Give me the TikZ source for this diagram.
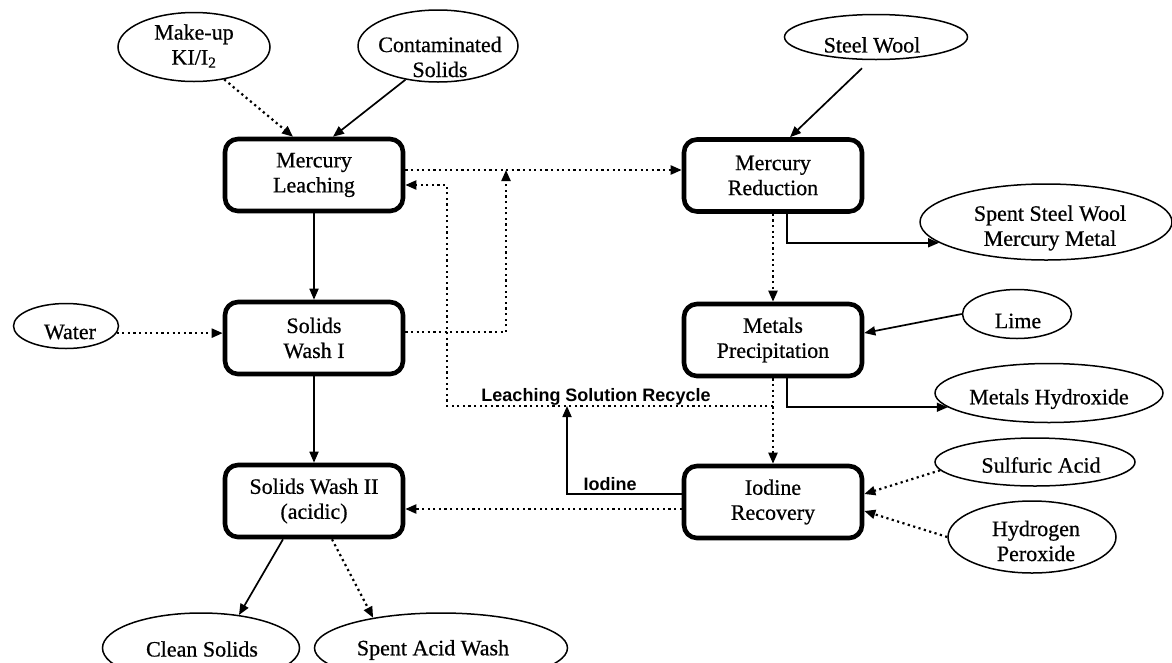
\documentclass[tikz,border=0pt]{standalone}
\usepackage{fontspec}
\setmainfont{Liberation Serif}[FakeBold=0.6]
\newfontfamily\labelsans{Liberation Sans}
\usetikzlibrary{arrows.meta,shapes.geometric}
\begin{document}
\begin{tikzpicture}[x=1pt,y=-1pt,
  proc/.style={draw, line width=4.6pt, rounded corners=13pt, minimum width=178pt, minimum height=72pt, inner sep=0pt, align=center, font=\fontsize{22}{25}\selectfont},
  oval/.style 2 args={draw, ellipse, line width=1.5pt, minimum width=#1, minimum height=#2, inner sep=0pt},
  otext/.style={align=center, font=\fontsize{22}{25}\selectfont, inner sep=0pt},
  sans/.style={font=\labelsans\bfseries\fontsize{18}{20}\selectfont, inner sep=0pt},
  flow/.style={line width=1.7pt, -{Triangle[length=11pt,width=9pt]}},
  dflow/.style={line width=2.2pt, dash pattern=on 2.2pt off 3.4pt, -{Triangle[length=11pt,width=9pt]}}]
\clip (0,0) rectangle (1172,662);
% process boxes
\node[proc] (ML)  at (314,175) {Mercury\\Leaching};
\node[proc] (SW1) at (314,338) {Solids\\Wash I};
\node[proc] (SW2) at (314,501) {Solids Wash II\\(acidic)};
\node[proc] (MR)  at (773,175.5) {Mercury\\Reduction};
\node[proc] (MP)  at (773,340) {Metals\\Precipitation};
\node[proc] (IR)  at (773,502) {Iodine\\Recovery};
% streams (ellipses)
\node[oval={152pt}{69pt}] (mk) at (194,47) {};
\node[otext] (mkT) at (194,46) {Make-up\\KI/I\textsubscript{2}};
\node[oval={160pt}{72pt}] (cs) at (438,46) {};
\node[otext] (csT) at (440,57) {Contaminated\\Solids};
\node[oval={183pt}{45pt}] (sw) at (876,37) {};
\node[otext] (swT) at (872,45) {Steel Wool};
\node[oval={252pt}{76pt}] (ssw) at (1046,222) {};
\node[otext] (sswT) at (1050,228) {Spent Steel Wool\\Mercury Metal};
\node[oval={109pt}{49pt}] (lime) at (1017,314) {};
\node[otext] (limeT) at (1018,321) {Lime};
\node[oval={228pt}{59pt}] (mh) at (1049,393) {};
\node[otext] (mhT) at (1049,399) {Metals Hydroxide};
\node[oval={200pt}{48pt}] (sa) at (1035,462) {};
\node[otext] (saT) at (1041,465) {Sulfuric Acid};
\node[oval={168pt}{72pt}] (hp) at (1032,537) {};
\node[otext] (hpT) at (1036,541) {Hydrogen\\Peroxide};
\node[oval={105pt}{45pt}] (water) at (66,326) {};
\node[otext] (waterT) at (70,332) {Water};
\node[oval={197pt}{70pt}] (cls) at (201,648) {};
\node[otext] (clsT) at (202,649) {Clean Solids};
\node[oval={253pt}{70pt}] (saw) at (441,648) {};
\node[otext] (sawT) at (433,650) {Spent Acid Wash};
% labels
\node[sans, anchor=base] (lsr) at (596,401) {Leaching Solution Recycle};
\node[sans, anchor=base] (iod) at (610,490) {Iodine};
% junctions
\coordinate (j1) at (506,170);
\coordinate (j2) at (773,406);
\coordinate (cL) at (447,406);
\coordinate (j3) at (567,406);
% connectors
\draw[dflow] (mk.-47) -- ([xshift=-21pt]ML.north);
\draw[flow] (cs.-134) -- ([xshift=19pt]ML.north);
\draw[flow] ([xshift=-14pt,yshift=-8pt]sw.south) -- ([xshift=17pt]MR.north);
\draw[flow] (ML.south) -- (SW1.north);
\draw[flow] (SW1.south) -- (SW2.north);
\draw[dflow] (water.-8) -- (water.-8 -| SW1.west);
\draw[dflow] ([yshift=6pt]SW1.east) -| (j1);
\draw[dflow] (ML.east |- j1) -- (MR.west |- j1);
\draw[dflow] (j2) -- (cL) |- ([yshift=-10pt]ML.east);
\draw[dflow] (MR.south) -- (MP.north);
\draw[dflow] (MP.south) -- (IR.north);
\draw[flow] ([xshift=14pt]MR.south) |- (ssw.191);
\draw[flow] ([xshift=14pt]MP.south) |- (mh.188);
\draw[flow] (lime.west) -- ([yshift=7pt]MP.east);
\draw[flow] ([yshift=8pt]IR.west) -| (j3);
\draw[dflow] ([yshift=-7pt]IR.west) -- ([yshift=-7pt]IR.west -| SW2.east);
\draw[dflow] (sa.185) -- ([yshift=8pt]IR.east);
\draw[dflow] (hp.west) -- ([yshift=-9pt]IR.east);
\draw[flow] ([xshift=-31pt]SW2.south) -- (cls.41);
\draw[dflow] ([xshift=18pt]SW2.south) -- (saw.156);
\end{tikzpicture}
\end{document}
